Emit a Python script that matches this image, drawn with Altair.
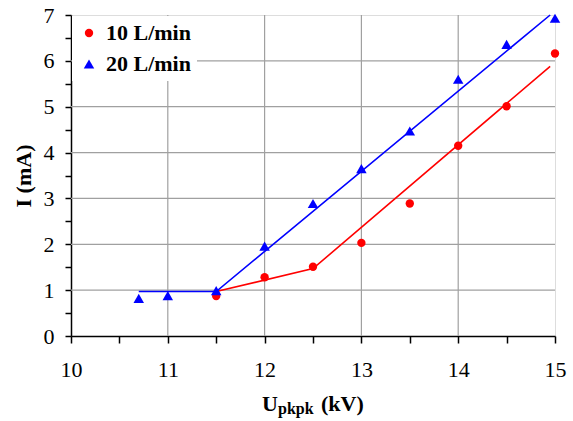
import altair as alt
import pandas as pd

# measured points
u10 = [11.5, 12, 12.5, 13, 13.5, 14, 14.5, 15]
i10 = [0.87, 1.28, 1.51, 2.03, 2.89, 4.15, 5.01, 6.16]
u20 = [10.7, 11, 11.5, 12, 12.5, 13, 13.5, 14, 14.5, 15]
i20 = [0.82, 0.88, 0.99, 1.96, 2.89, 3.65, 4.47, 5.60, 6.36, 6.93]

# fitted line vertices
fit10_u = [11.5, 12.5, 14.95]
fit10_i = [0.97, 1.47, 5.88]
fit20_u = [10.7, 11.5, 14.95]
fit20_i = [0.97, 0.97, 7.0]

series = ["10 L/min", "20 L/min"]
colors = ["#ff0000", "#0000ff"]
shapes = ["circle", "triangle-up"]
marker_sizes = [70, 110]

grid_u = [11, 12, 13, 14]
grid_i = [1, 2, 3, 4, 5, 6]
x_ticks = [10, 10.5, 11, 11.5, 12, 12.5, 13, 13.5, 14, 14.5, 15]
y_ticks = [0, 0.5, 1, 1.5, 2, 2.5, 3, 3.5, 4, 4.5, 5, 5.5, 6, 6.5, 7]

pts = pd.DataFrame(
    {"u": u10 + u20, "i": i10 + i20, "series": [series[0]] * len(u10) + [series[1]] * len(u20)}
)
fits = pd.DataFrame(
    {
        "u": fit10_u + fit20_u,
        "i": fit10_i + fit20_i,
        "col": [colors[0]] * len(fit10_u) + [colors[1]] * len(fit20_u),
    }
)
gx = pd.DataFrame({"u": grid_u})
gy = pd.DataFrame({"i": grid_i})
one = pd.DataFrame({"k": [0]})

FONT = "Liberation Serif, DejaVu Serif, serif"
LBL = "datum.value % 1 == 0 ? format(datum.value, 'd') : ''"

x_axis = alt.Axis(
    values=x_ticks,
    labelExpr=LBL,
    grid=False,
    domainColor="black",
    domainWidth=1.5,
    tickColor="black",
    tickWidth=1.5,
    tickSize=7,
    labelFont=FONT,
    labelFontSize=22,
    labelColor="black",
    labelPadding=16,
    labelFlush=False,
    title=None,
)
y_axis = alt.Axis(
    values=y_ticks,
    labelExpr=LBL,
    grid=False,
    domainColor="black",
    domainWidth=1.5,
    tickColor="black",
    tickWidth=1.5,
    tickSize=6,
    labelFont=FONT,
    labelFontSize=22,
    labelColor="black",
    labelPadding=11,
    labelFlush=False,
    title="I (mA)",
    titleFont=FONT,
    titleFontSize=22,
    titleFontWeight="bold",
    titleColor="black",
    titlePadding=8,
)
xs = alt.Scale(domain=[10, 15], nice=False, zero=False)
ys = alt.Scale(domain=[0, 7], nice=False)

X = alt.X("u:Q", scale=xs, axis=x_axis)
Y = alt.Y("i:Q", scale=ys, axis=y_axis)

legend = alt.Legend(
    title=None,
    orient="none",
    legendX=1,
    legendY=1,
    fillColor="white",
    padding=6,
    labelFont=FONT,
    labelFontSize=22,
    labelFontWeight="bold",
    labelColor="black",
    symbolSize=80,
    symbolStrokeWidth=0,
    rowPadding=9,
    labelOffset=6,
)

grid_x = alt.Chart(gx).mark_rule(color="#a0a0a0", strokeWidth=1.2).encode(x=X)
grid_y = alt.Chart(gy).mark_rule(color="#a0a0a0", strokeWidth=1.2).encode(y=Y)

lines = alt.Chart(fits).mark_line(strokeWidth=1.6).encode(
    x=X, y=Y, color=alt.Color("col:N", scale=None)
)

points = alt.Chart(pts).mark_point(filled=True, opacity=1).encode(
    x=X,
    y=Y,
    color=alt.Color("series:N", scale=alt.Scale(domain=series, range=colors), legend=legend),
    shape=alt.Shape("series:N", scale=alt.Scale(domain=series, range=shapes), legend=legend),
    size=alt.Size("series:N", scale=alt.Scale(domain=series, range=marker_sizes), legend=None),
)

t_u = alt.Chart(one).mark_text(
    text="U", font=FONT, fontSize=22, fontWeight="bold", align="left", baseline="alphabetic", color="black"
).encode(x=alt.value(191), y=alt.value(396))
t_sub = alt.Chart(one).mark_text(
    text="pkpk", font=FONT, fontSize=16, fontWeight="bold", align="left", baseline="alphabetic", color="black"
).encode(x=alt.value(207), y=alt.value(399))
t_kv = alt.Chart(one).mark_text(
    text="(kV)", font=FONT, fontSize=22, fontWeight="bold", align="left", baseline="alphabetic", color="black"
).encode(x=alt.value(250), y=alt.value(396))

chart = (
    alt.layer(grid_x, grid_y, lines, points, t_u, t_sub, t_kv)
    .properties(
        width=484,
        height=321,
        padding={"left": 71, "top": 15, "right": 18, "bottom": 85},
        autosize="none",
    )
    .configure_view(stroke="#999999", strokeWidth=1.5)
    .configure(background="white")
)

chart.save("out.html", embed_options={"renderer": "svg", "actions": False})
